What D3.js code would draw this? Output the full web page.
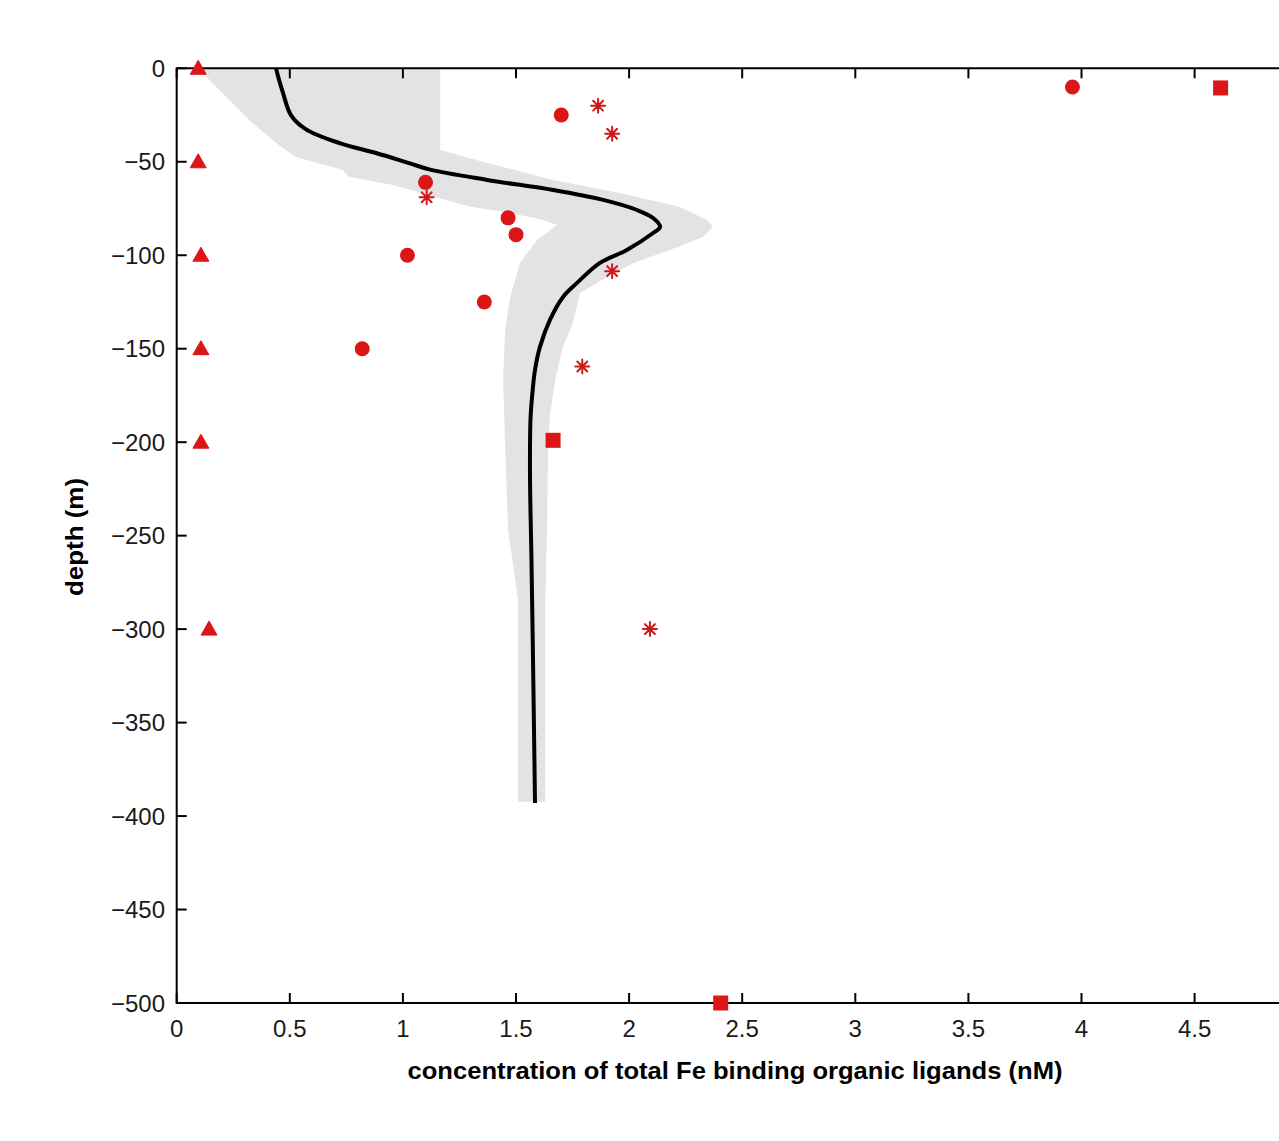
<!DOCTYPE html>
<html>
<head>
<meta charset="utf-8">
<script src="https://cdn.jsdelivr.net/npm/d3@7"></script>
<style>
  html, body { margin: 0; padding: 0; background: #ffffff; }
  svg { display: block; }
</style>
</head>
<body>
<svg id="chart" width="1279" height="1141"></svg>
<script>
// ---------------- data ----------------
const xTicks = [0, 0.5, 1, 1.5, 2, 2.5, 3, 3.5, 4, 4.5];
const xTickLabels = ["0", "0.5", "1", "1.5", "2", "2.5", "3", "3.5", "4", "4.5"];
const yTicks = [0, -50, -100, -150, -200, -250, -300, -350, -400, -450, -500];
const yTickLabels = ["0", "\u221250", "\u2212100", "\u2212150", "\u2212200", "\u2212250", "\u2212300", "\u2212350", "\u2212400", "\u2212450", "\u2212500"];

// model profile (black line)
const lineX =     [0.439, 0.452, 0.47, 0.505, 0.57, 0.72, 0.881, 1.027, 1.12, 1.372, 1.664, 1.885, 2.035, 2.106, 2.137, 2.106, 1.99, 1.871, 1.77, 1.708, 1.65, 1.606, 1.584, 1.571, 1.564, 1.562, 1.568, 1.576, 1.584];
const lineDepth = [0, -6, -13.2, -25, -32.5, -40, -45.3, -50.7, -54.2, -59.7, -65.1, -70.4, -75.8, -80.1, -84.9, -88.1, -97.2, -104.1, -114.8, -122.3, -134.6, -149, -161.3, -175.8, -188, -220, -260, -323, -393];

// model spread (grey band): left and right edges
const bandLeftX =     [0.081, 0.116, 0.218, 0.32, 0.439, 0.527, 0.735, 0.762, 0.957, 1.178, 1.3, 1.443, 1.606, 1.681, 1.593, 1.518, 1.474, 1.452, 1.443, 1.452, 1.465, 1.509, 1.509];
const bandLeftDepth = [0, -2.5, -15.3, -27.6, -40, -47.4, -54.4, -58.2, -62.4, -70, -74, -76.8, -80.6, -83.8, -91.8, -104, -122.3, -140, -166.7, -202.5, -246.9, -284.3, -392.3];
const bandRightX =     [1.165, 1.165, 1.372, 1.664, 1.96, 2.225, 2.344, 2.371, 2.327, 2.181, 2.018, 1.903, 1.783, 1.752, 1.708, 1.673, 1.651, 1.642, 1.637, 1.628, 1.628];
const bandRightDepth = [0, -43.7, -50.6, -59.7, -66.7, -74.2, -81.1, -84.9, -90.2, -97.2, -104.1, -111.6, -120.2, -136.2, -149, -166.7, -184.4, -202.5, -246.9, -293.4, -392.3];

// observations
const triX =     [0.095, 0.095, 0.107, 0.107, 0.107, 0.143];
const triDepth = [0, -50, -100, -150, -200, -300];
const circX =     [3.96, 1.7, 1.1, 1.465, 1.5, 1.02, 1.36, 0.82];
const circDepth = [-10, -25, -61, -80, -89, -100, -125, -150];
const starX =     [1.863, 1.925, 1.105, 1.925, 1.793, 2.092];
const starDepth = [-20, -35, -69, -108.5, -159.5, -300];
const sqX =     [4.615, 1.664, 2.405];
const sqDepth = [-10.5, -199, -500];

// ---------------- drawing ----------------
const svg = d3.select("#chart");
const x = d3.scaleLinear().domain([0, 5]).range([176.7, 1307.7]);
const y = d3.scaleLinear().domain([-500, 0]).range([1003, 68.3]);

const red = "#dc1616";
const font = "'Liberation Sans', Arial, Helvetica, sans-serif";

// grey band
const bandPts = bandLeftX.map((v, i) => [v, bandLeftDepth[i]])
  .concat(bandRightX.map((v, i) => [v, bandRightDepth[i]]).reverse());
svg.append("path")
  .attr("d", d3.line().x(d => x(d[0])).y(d => y(d[1])).curve(d3.curveLinearClosed)(bandPts))
  .attr("fill", "#e3e3e3")
  .attr("stroke", "none");

// black line
const linePts = lineX.map((v, i) => [v, lineDepth[i]]);
svg.append("path")
  .attr("d", d3.line().x(d => x(d[0])).y(d => y(d[1])).curve(d3.curveCatmullRom.alpha(0.5))(linePts))
  .attr("fill", "none")
  .attr("stroke", "#000")
  .attr("stroke-width", 4)
  .attr("stroke-linejoin", "round");

// axes
const ax = svg.append("g");
const xl = x(0), xr = 1279, yt = y(0), yb = y(-500);
ax.append("line").attr("x1", xl).attr("x2", xr).attr("y1", yt).attr("y2", yt)
  .attr("stroke", "#000").attr("stroke-width", 2);
ax.append("line").attr("x1", xl).attr("x2", xr).attr("y1", yb).attr("y2", yb)
  .attr("stroke", "#000").attr("stroke-width", 2);
ax.append("line").attr("x1", xl).attr("x2", xl).attr("y1", yt - 1).attr("y2", yb + 1)
  .attr("stroke", "#000").attr("stroke-width", 2);

const tickLen = 10;
xTicks.forEach((t, i) => {
  const px = x(t);
  ax.append("line").attr("x1", px).attr("x2", px).attr("y1", yb).attr("y2", yb - tickLen)
    .attr("stroke", "#000").attr("stroke-width", 2);
  ax.append("line").attr("x1", px).attr("x2", px).attr("y1", yt).attr("y2", yt + tickLen)
    .attr("stroke", "#000").attr("stroke-width", 2);
  ax.append("text").attr("x", px).attr("y", 1037)
    .attr("text-anchor", "middle")
    .attr("font-family", font).attr("font-size", 24).attr("fill", "#1a1a1a")
    .text(xTickLabels[i]);
});
yTicks.forEach((t, i) => {
  const py = y(t);
  ax.append("line").attr("x1", xl).attr("x2", xl + tickLen).attr("y1", py).attr("y2", py)
    .attr("stroke", "#000").attr("stroke-width", 2);
  ax.append("text").attr("x", 165).attr("y", py + 8.5)
    .attr("text-anchor", "end")
    .attr("font-family", font).attr("font-size", 24).attr("fill", "#1a1a1a")
    .text(yTickLabels[i]);
});

// axis titles
svg.append("text")
  .attr("x", 735).attr("y", 1079)
  .attr("text-anchor", "middle")
  .attr("font-family", font).attr("font-size", 23).attr("font-weight", "bold")
  .attr("textLength", 655).attr("lengthAdjust", "spacingAndGlyphs")
  .attr("fill", "#000")
  .text("concentration of total Fe binding organic ligands (nM)");
svg.append("text")
  .attr("transform", "translate(83,537) rotate(-90)")
  .attr("text-anchor", "middle")
  .attr("font-family", font).attr("font-size", 23).attr("font-weight", "bold")
  .attr("textLength", 118).attr("lengthAdjust", "spacingAndGlyphs")
  .attr("fill", "#000")
  .text("depth (m)");

// markers
const mk = svg.append("g");
triX.forEach((v, i) => {
  mk.append("path")
    .attr("transform", `translate(${x(v)},${y(triDepth[i])})`)
    .attr("d", "M0,-8 L8,6 L-8,6 Z")
    .attr("fill", red).attr("stroke", red).attr("stroke-width", 1);
});
circX.forEach((v, i) => {
  mk.append("circle")
    .attr("cx", x(v)).attr("cy", y(circDepth[i])).attr("r", 7.5)
    .attr("fill", red);
});
starX.forEach((v, i) => {
  const r = 7;
  const d = r * 0.7071;
  mk.append("path")
    .attr("transform", `translate(${x(v)},${y(starDepth[i])})`)
    .attr("d", `M${-r},0 L${r},0 M0,${-r} L0,${r} M${-d},${-d} L${d},${d} M${-d},${d} L${d},${-d}`)
    .attr("fill", "none").attr("stroke", "#cc1a1a").attr("stroke-width", 2)
    .attr("stroke-linecap", "round");
});
sqX.forEach((v, i) => {
  mk.append("rect")
    .attr("x", x(v) - 7.5).attr("y", y(sqDepth[i]) - 7.5)
    .attr("width", 15).attr("height", 15)
    .attr("fill", red);
});
</script>
</body>
</html>
